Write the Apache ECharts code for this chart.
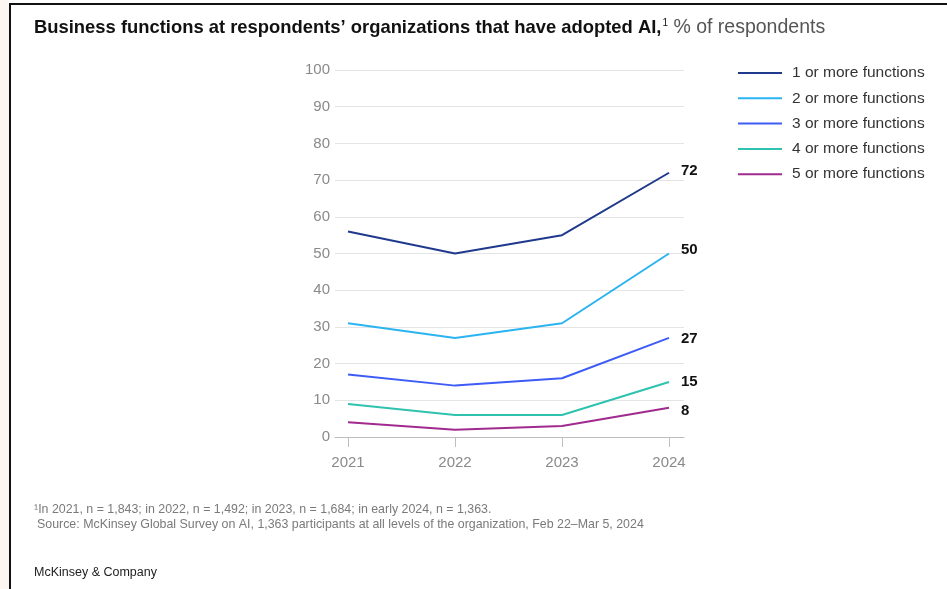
<!DOCTYPE html>
<html>
<head>
<meta charset="utf-8">
<script src="https://cdn.jsdelivr.net/npm/echarts@6/dist/echarts.min.js"></script>
<style>
  html, body { margin: 0; padding: 0; background: #ffffff; }
  #chart { width: 947px; height: 589px; }
</style>
</head>
<body>
<div id="chart"></div>
<script>
// Survey years on the horizontal axis
const years = [2021, 2022, 2023, 2024];

// Share of respondents (%) by number of business functions using AI
const seriesNames = [
  '1 or more functions',
  '2 or more functions',
  '3 or more functions',
  '4 or more functions',
  '5 or more functions'
];
const oneOrMore   = [56, 50, 55, 72];
const twoOrMore   = [31, 27, 31, 50];
const threeOrMore = [17, 14, 16, 27];
const fourOrMore  = [9, 6, 6, 15];
const fiveOrMore  = [4, 2, 3, 8];

// Y-axis tick labels
const yTicks = [0, 10, 20, 30, 40, 50, 60, 70, 80, 90, 100];

const seriesValues = [oneOrMore, twoOrMore, threeOrMore, fourOrMore, fiveOrMore];
const colors = ['#1f3a8c', '#2bb3f2', '#3d5cf6', '#2fc2ae', '#a02a8e'];
// small vertical nudges for the end-of-line value labels
const endLabelShift = [-2, -4, 1, 0, 3];

const FONT = '"Liberation Sans", Arial, sans-serif';

const chart = echarts.init(document.getElementById('chart'));

const series = seriesNames.map((name, i) => ({
  name: name,
  type: 'line',
  data: years.map((y, j) => [y, seriesValues[i][j]]),
  symbol: 'none',
  lineStyle: { width: 2, color: colors[i] },
  itemStyle: { color: colors[i] },
  endLabel: {
    show: true,
    distance: 12,
    offset: [0, endLabelShift[i]],
    formatter: p => String(p.value[1]),
    color: '#111',
    fontWeight: 'bold',
    fontSize: 15,
    fontFamily: FONT
  },
  emphasis: { disabled: true },
  animation: false
}));

chart.setOption({
  backgroundColor: '#ffffff',
  animation: false,
  title: {
    left: 34,
    top: 18,
    padding: 0,
    text: '{b|Business functions at respondents\u2019 organizations that have adopted AI,}{s|1}{n| % of respondents}',
    textStyle: {
      rich: {
        b: { fontFamily: FONT, fontWeight: 'bold', fontSize: 18.4, color: '#111' },
        s: { fontFamily: FONT, fontWeight: 'normal', fontSize: 10, color: '#111', padding: [0, 0, 10, 1] },
        n: { fontFamily: FONT, fontWeight: 'normal', fontSize: 19.5, color: '#555' }
      }
    }
  },
  legend: {
    orient: 'vertical',
    left: 733,
    top: 60,
    itemWidth: 44,
    itemHeight: 2,
    itemGap: 9.3,
    icon: 'rect',
    selectedMode: false,
    data: seriesNames,
    textStyle: {
      fontFamily: FONT,
      fontSize: 15.5,
      lineHeight: 16,
      color: '#333',
      padding: [0, 0, 0, 5]
    }
  },
  grid: {
    left: 335,
    right: 263,
    top: 70,
    bottom: 152,
    containLabel: false
  },
  xAxis: {
    type: 'value',
    min: 2021 - 13 / 107,
    max: 2024 + 15 / 107,
    splitLine: { show: false },
    axisLine: { show: true, onZero: false, lineStyle: { color: '#bdbdbd', width: 1 } },
    axisTick: {
      show: true,
      customValues: years,
      length: 10,
      lineStyle: { color: '#bdbdbd' }
    },
    axisLabel: {
      customValues: years,
      formatter: v => String(v),
      margin: 18,
      color: '#8a8a8a',
      fontSize: 15,
      fontFamily: FONT
    }
  },
  yAxis: {
    type: 'value',
    min: 0,
    max: 100,
    interval: 10,
    axisLine: { show: false },
    axisTick: { show: false },
    splitLine: { lineStyle: { color: '#e4e4e4', width: 1 } },
    axisLabel: {
      formatter: v => (yTicks.indexOf(v) >= 0 ? String(v) : ''),
      margin: 5,
      color: '#8a8a8a',
      fontSize: 15,
      fontFamily: FONT
    }
  },
  graphic: [
    // light tint at the far left edge
    { type: 'rect', left: 0, top: 0, shape: { width: 9, height: 589 }, style: { fill: '#fdf5f1' }, silent: true },
    // frame lines on the top and left
    { type: 'rect', left: 9, top: 3, shape: { width: 938, height: 2 }, style: { fill: '#111' }, silent: true },
    { type: 'rect', left: 9, top: 3, shape: { width: 2, height: 586 }, style: { fill: '#111' }, silent: true },
    {
      type: 'text', left: 34, top: 504,
      style: {
        text: '\u00b9In 2021, n = 1,843; in 2022, n = 1,492; in 2023, n = 1,684; in early 2024, n = 1,363.',
        fontFamily: FONT, fontSize: 12.4, fill: '#7a7a7a'
      }
    },
    {
      type: 'text', left: 37, top: 519,
      style: {
        text: 'Source: McKinsey Global Survey on AI, 1,363 participants at all levels of the organization, Feb 22\u2013Mar 5, 2024',
        fontFamily: FONT, fontSize: 12.4, fill: '#7a7a7a'
      }
    },
    {
      type: 'text', left: 34, top: 566,
      style: {
        text: 'McKinsey & Company',
        fontFamily: FONT, fontSize: 12.5, fill: '#222'
      }
    }
  ],
  series: series
});
</script>
</body>
</html>
